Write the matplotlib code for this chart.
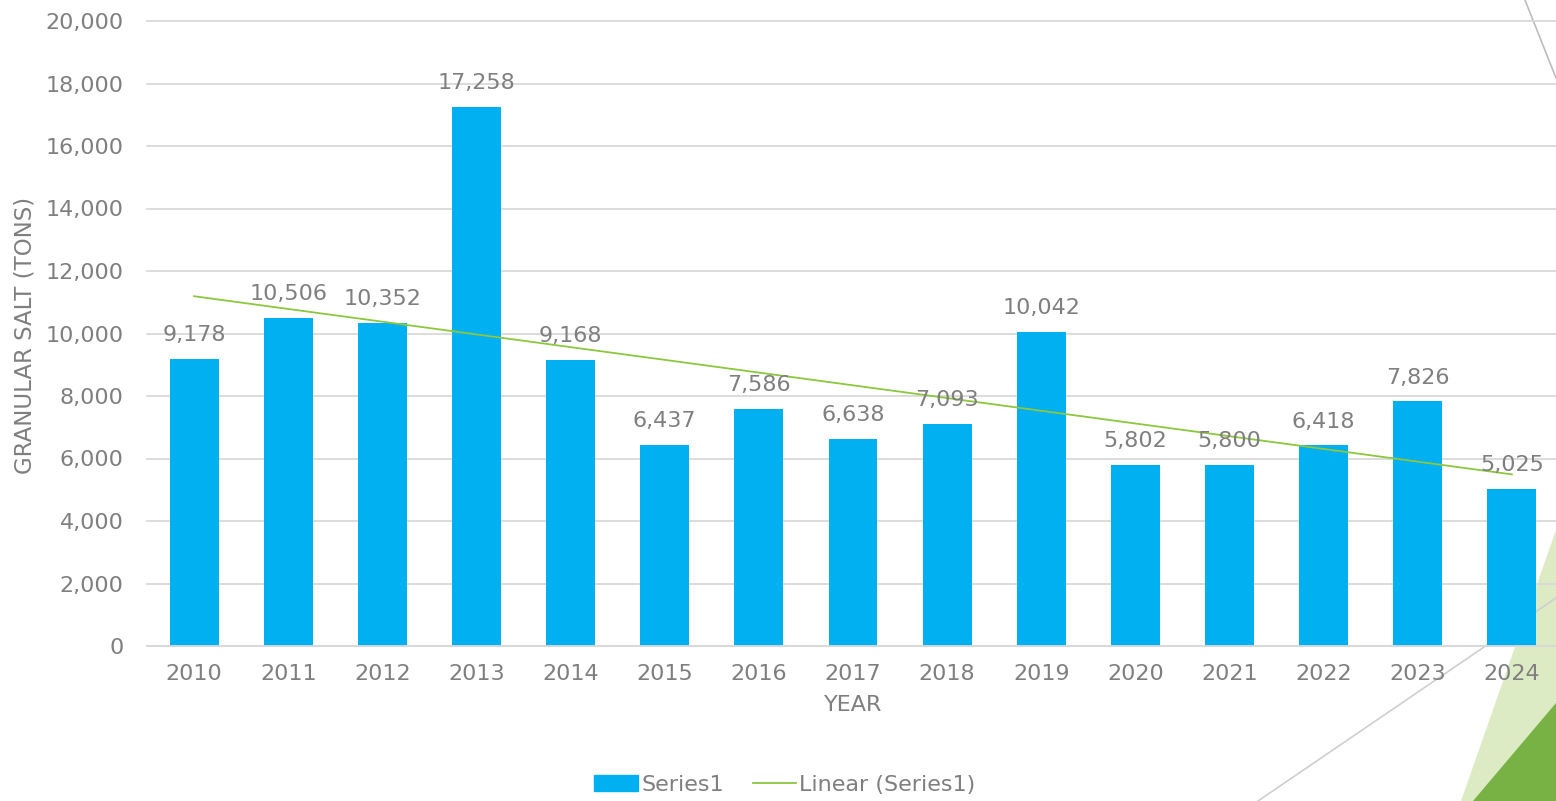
import numpy as np
import matplotlib.pyplot as plt
from matplotlib.patches import Polygon
from matplotlib.lines import Line2D

years = ["2010", "2011", "2012", "2013", "2014", "2015", "2016", "2017",
         "2018", "2019", "2020", "2021", "2022", "2023", "2024"]
salt = [9178, 10506, 10352, 17258, 9168, 6437, 7586, 6638,
        7093, 10042, 5802, 5800, 6418, 7826, 5025]

bar_color = "#00B0F0"
trend_color = "#8DC63F"
text_color = "#7F7F7F"

plt.rcParams['font.family'] = ['DejaVu Sans']

W, H = 1556, 801
fig = plt.figure(figsize=(W / 100, H / 100), dpi=100)

# slide decorations behind the chart
deco = fig.add_axes([0, 0, 1, 1], zorder=0)
deco.set_xlim(0, W)
deco.set_ylim(H, 0)
deco.axis("off")
deco.add_patch(Polygon([[1556, 530], [1461, 801], [1556, 801]],
                       closed=True, color="#DDEBC4", lw=0))
deco.add_patch(Polygon([[1556, 703], [1473, 801], [1556, 801]],
                       closed=True, color="#78B144", lw=0))
deco.plot([1258, 1556], [801, 598], color="#CFCFCF", lw=1.2)
deco.plot([1525, 1556], [0, 78], color="#BDBDBD", lw=1.2)

ax = fig.add_axes([147 / W, (H - 646) / H, (1559 - 147) / W, (646 - 21) / H],
                  zorder=1)
ax.patch.set_alpha(0)

x = np.arange(len(years))
ax.bar(x, salt, width=0.52, color=bar_color, zorder=2, label="Series1")

# linear trendline
k, b = np.polyfit(x, salt, 1)
ax.plot(x, k * x + b, color=trend_color, lw=1.3, zorder=3, label="Linear (Series1)")

for xi, v in zip(x, salt):
    ax.annotate(f"{v:,}", (xi, v), xytext=(0, 10), textcoords="offset points",
                ha="center", va="bottom", fontsize=16, color=text_color, zorder=4)

ax.set_xlim(-0.5, len(years) - 0.5)
ax.set_ylim(0, 20000)
ax.set_yticks(range(0, 20001, 2000))
ax.set_yticklabels([f"{t:,}" for t in range(0, 20001, 2000)])
ax.set_xticks(x)
ax.set_xticklabels(years)
ax.yaxis.grid(True, color="#D9D9D9", lw=1.3, zorder=0, clip_on=False)
ax.set_axisbelow(True)
for s in ax.spines.values():
    s.set_visible(False)
ax.spines["bottom"].set_visible(True)
ax.spines["bottom"].set_color("#D9D9D9")
ax.spines["bottom"].set_linewidth(1.3)
ax.tick_params(axis="both", length=0, labelsize=16, colors=text_color)
ax.tick_params(axis="x", pad=13)
ax.tick_params(axis="y", pad=17)

ax.set_xlabel("YEAR", fontsize=16, color=text_color, labelpad=8)
ax.set_ylabel("GRANULAR SALT (TONS)", fontsize=16.5, color=text_color)
ax.yaxis.set_label_coords(25 / W, 1 - 335 / H, transform=fig.transFigure)
ax.yaxis.label.set_va("center")

handles = [plt.Rectangle((0, 0), 1, 1, color=bar_color),
           Line2D([0], [0], color=trend_color, lw=1.3)]
fig.legend(handles, ["Series1", "Linear (Series1)"], loc="center",
           bbox_to_anchor=(785 / W, 1 - 785 / H), ncol=2, frameon=False,
           fontsize=16, labelcolor=text_color, handlelength=1.95,
           handletextpad=0.15, columnspacing=1.3)

fig.savefig("out.png", dpi=100)
